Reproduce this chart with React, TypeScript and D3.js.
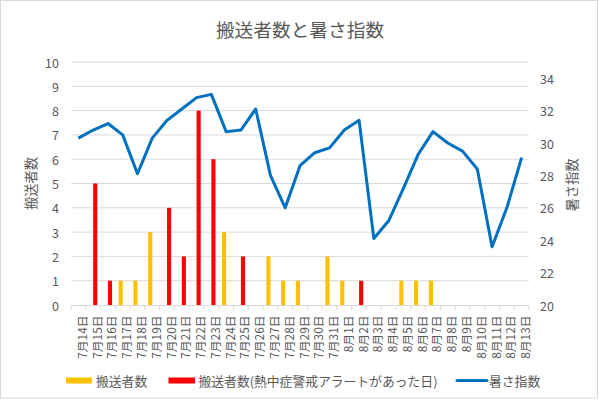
import React from "react";
import * as d3 from "d3";

const categories = [
  "7月14日", "7月15日", "7月16日", "7月17日", "7月18日", "7月19日", "7月20日", "7月21日",
  "7月22日", "7月23日", "7月24日", "7月25日", "7月26日", "7月27日", "7月28日", "7月29日",
  "7月30日", "7月31日", "8月1日", "8月2日", "8月3日", "8月4日", "8月5日", "8月6日",
  "8月7日", "8月8日", "8月9日", "8月10日", "8月11日", "8月12日", "8月13日",
];
const transported = [0, 0, 0, 1, 1, 3, 0, 0, 0, 0, 3, 0, 0, 2, 1, 1, 0, 2, 1, 0, 0, 0, 1, 1, 1, 0, 0, 0, 0, 0, 0];
const transportedAlert = [0, 5, 1, 0, 0, 0, 4, 2, 8, 6, 0, 2, 0, 0, 0, 0, 0, 0, 0, 1, 0, 0, 0, 0, 0, 0, 0, 0, 0, 0, 0];
const wbgt = [30.3, 30.8, 31.2, 30.5, 28.1, 30.3, 31.4, 32.1, 32.8, 33.0, 30.7, 30.8, 32.1, 28.0, 26.0, 28.6, 29.4, 29.7, 30.8, 31.4, 24.1, 25.2, 27.2, 29.3, 30.7, 30.0, 29.5, 28.4, 23.6, 26.0, 29.1];
const leftTicks = [0, 1, 2, 3, 4, 5, 6, 7, 8, 9, 10];
const rightTicks = [20, 22, 24, 26, 28, 30, 32, 34];

const FONT = "'Noto Sans CJK JP', 'Noto Sans', sans-serif";
const TEXT = "#595959";
const GRID = "#d9d9d9";

export default function App() {
  const left = 71, right = 529, top = 62, bottom = 305;
  const x = d3.scaleBand<string>().domain(categories).range([left, right]).paddingInner(0).paddingOuter(0);
  const yL = d3.scaleLinear().domain([0, 10]).range([bottom, top]);
  const yR = d3.scaleLinear().domain([20, 35]).range([bottom, top]);
  const bw = x.bandwidth();
  const barW = bw / 3.6;
  const cx = (c: string) => (x(c) as number) + bw / 2;

  const line = d3.line<number>()
    .x((_, i) => cx(categories[i]))
    .y((d) => yR(d));

  const legendY = 380.5;

  return (
    <svg width={600} height={400} style={{ position: "absolute", left: 0, top: 0, background: "#fff" }} fontFamily={FONT}>
      <rect x={0.5} y={0.5} width={597} height={397.5} fill="#fff" stroke={GRID} strokeWidth={1} />
      <text x={300} y={28} textAnchor="middle" dominantBaseline="central" fontSize={18.7} fill={TEXT}>
        搬送者数と暑さ指数
      </text>

      {/* gridlines */}
      {leftTicks.filter((t) => t > 0).map((t) => (
        <line key={"g" + t} x1={left} x2={right} y1={yL(t)} y2={yL(t)} stroke={GRID} strokeWidth={1} />
      ))}

      {/* left tick labels */}
      {leftTicks.map((t) => (
        <text key={"l" + t} x={59} y={yL(t)} textAnchor="end" dominantBaseline="central" fontSize={12.5} fill={TEXT}>
          {t}
        </text>
      ))}
      {/* right tick labels */}
      {rightTicks.map((t) => (
        <text key={"r" + t} x={540} y={yR(t)} textAnchor="start" dominantBaseline="central" fontSize={12.5} fill={TEXT}>
          {t}
        </text>
      ))}

      {/* axis titles */}
      <text transform={`translate(30, 183.5) rotate(-90)`} textAnchor="middle" dominantBaseline="central" fontSize={13.3} fill={TEXT}>
        搬送者数
      </text>
      <text transform={`translate(571.5, 185) rotate(-90)`} textAnchor="middle" dominantBaseline="central" fontSize={13.3} fill={TEXT}>
        暑さ指数
      </text>

      {/* bars */}
      {transported.map((v, i) =>
        v > 0 ? (
          <rect key={"y" + i} x={cx(categories[i]) - barW} y={yL(v)} width={barW} height={yL(0) - yL(v)} fill="#FFC000" />
        ) : null
      )}
      {transportedAlert.map((v, i) =>
        v > 0 ? (
          <rect key={"a" + i} x={cx(categories[i])} y={yL(v)} width={barW} height={yL(0) - yL(v)} fill="#FF0000" />
        ) : null
      )}

      {/* x axis */}
      <line x1={left} x2={right} y1={bottom + 0.5} y2={bottom + 0.5} stroke={GRID} strokeWidth={1} />
      {d3.range(categories.length + 1).map((i) => {
        const xx = left + i * bw;
        return <line key={"t" + i} x1={xx} x2={xx} y1={bottom} y2={bottom + 5} stroke={GRID} strokeWidth={1} />;
      })}
      {categories.map((c) => (
        <text
          key={"x" + c}
          transform={`translate(${cx(c) + 3}, 315.5) rotate(-90)`}
          textAnchor="end"
          dominantBaseline="central"
          fontSize={11.8}
          fill={TEXT}
        >
          {c}
        </text>
      ))}

      {/* line */}
      <path d={line(wbgt) || ""} fill="none" stroke="#0070C0" strokeWidth={3} strokeLinejoin="round" />

      {/* legend */}
      <rect x={66} y={legendY - 3} width={26} height={6} fill="#FFC000" />
      <text x={96} y={legendY} dominantBaseline="central" fontSize={12.8} fill={TEXT}>搬送者数</text>
      <rect x={168.5} y={legendY - 3} width={26.5} height={6} fill="#FF0000" />
      <text x={198.5} y={legendY} dominantBaseline="central" fontSize={12.8} fill={TEXT}>搬送者数(熱中症警戒アラートがあった日)</text>
      <line x1={457} x2={487} y1={legendY} y2={legendY} stroke="#0070C0" strokeWidth={3} strokeLinecap="round" />
      <text x={489} y={legendY} dominantBaseline="central" fontSize={12.8} fill={TEXT}>暑さ指数</text>
    </svg>
  );
}
